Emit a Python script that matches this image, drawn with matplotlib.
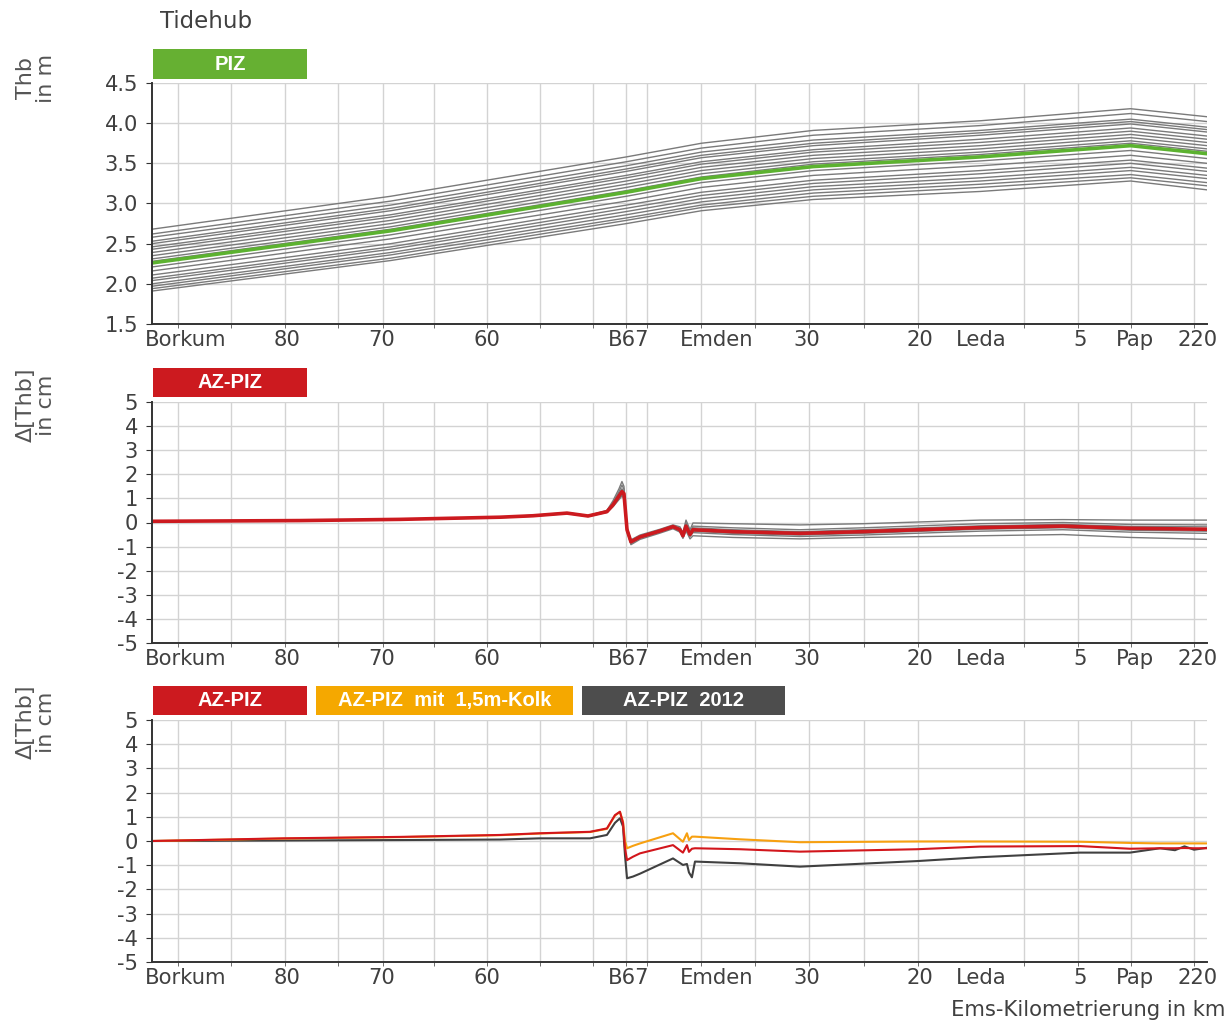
import matplotlib
matplotlib.use("Agg")
import matplotlib.pyplot as plt
from matplotlib.patches import Rectangle
from matplotlib.ticker import FixedLocator, NullFormatter

plt.rcParams['axes.unicode_minus'] = False
plt.rcParams['font.family'] = ['DejaVu Sans']

# x axis: Ems-km positions (axis runs from Borkum to upstream)
x_range = (92.58, -7.23)
grid_km = [90.12, 85.11, 80.0, 74.99, 70.73, 65.90, 60.89, 55.88, 50.86, 47.74,
           45.75, 40.64, 35.53, 30.43, 25.22, 20.11, 14.15, 10.09, 4.98, -0.04, -5.99]
label_km = [89.37, 79.8, 70.9, 60.9, 47.5, 39.2, 30.6, 19.9, 14.15, 4.8, -0.4, -6.3]
label_txt = ["Borkum", "80", "70", "60", "B67", "Emden", "30", "20", "Leda", "5", "Pap", "220"]

# --- panel 1: Tidehub (m) ---
km1 = [92.58, 70.0, 47.7, 40.6, 30.0, 14.2, 0.0, -7.23]
piz = [2.26, 2.66, 3.14, 3.31, 3.46, 3.58, 3.72, 3.62]
runs = [
    [2.68, 3.09, 3.58, 3.75, 3.91, 4.03, 4.18, 4.08],
    [2.62, 3.03, 3.52, 3.69, 3.85, 3.97, 4.12, 4.02],
    [2.58, 2.98, 3.47, 3.64, 3.79, 3.91, 4.05, 3.95],
    [2.53, 2.94, 3.43, 3.60, 3.75, 3.88, 4.02, 3.92],
    [2.50, 2.91, 3.40, 3.57, 3.72, 3.85, 3.99, 3.89],
    [2.46, 2.86, 3.35, 3.52, 3.67, 3.80, 3.94, 3.84],
    [2.43, 2.83, 3.32, 3.49, 3.64, 3.76, 3.90, 3.80],
    [2.39, 2.79, 3.28, 3.45, 3.60, 3.72, 3.86, 3.76],
    [2.35, 2.75, 3.24, 3.41, 3.56, 3.68, 3.82, 3.72],
    [2.31, 2.71, 3.20, 3.37, 3.52, 3.64, 3.78, 3.68],
    [2.28, 2.68, 3.16, 3.33, 3.49, 3.61, 3.75, 3.65],
    [2.21, 2.61, 3.09, 3.26, 3.41, 3.53, 3.66, 3.56],
    [2.16, 2.56, 3.03, 3.20, 3.35, 3.47, 3.60, 3.50],
    [2.11, 2.50, 2.98, 3.14, 3.29, 3.41, 3.54, 3.44],
    [2.07, 2.46, 2.94, 3.10, 3.25, 3.37, 3.50, 3.40],
    [2.04, 2.43, 2.90, 3.06, 3.21, 3.32, 3.45, 3.35],
    [2.00, 2.39, 2.86, 3.02, 3.17, 3.28, 3.41, 3.31],
    [1.97, 2.36, 2.82, 2.98, 3.13, 3.24, 3.36, 3.26],
    [1.94, 2.32, 2.79, 2.95, 3.09, 3.20, 3.32, 3.22],
    [1.91, 2.29, 2.75, 2.91, 3.05, 3.15, 3.28, 3.17],
]

# --- panel 2: AZ-PIZ differences (cm) ---
km2 = [92.58, 78.58, 69.12, 59.66, 56.54, 53.32, 51.33, 49.54, 48.97, 48.40, 48.12,
       47.93, 47.64, 47.27, 46.41, 44.52, 43.29, 42.63, 42.35, 42.06, 41.68, 41.40,
       37.62, 31.28, 25.32, 14.25, 6.40, 0.06, -7.23]
az_mean = [0.05, 0.08, 0.13, 0.22, 0.28, 0.39, 0.27, 0.45, 0.73, 1.10, 1.28, 1.20, -0.30,
           -0.80, -0.60, -0.35, -0.17, -0.30, -0.55, -0.15, -0.50, -0.30, -0.38, -0.45,
           -0.38, -0.21, -0.15, -0.24, -0.28]
az_runs = [
    [0.05, 0.08, 0.14, 0.23, 0.30, 0.41, 0.29, 0.50, 0.90, 1.40, 1.70, 1.50, -0.20, -0.72,
     -0.52, -0.28, -0.10, -0.18, -0.42, 0.10, -0.30, -0.02, -0.05, -0.10, -0.05, 0.10, 0.12, 0.10, 0.10],
    [0.05, 0.08, 0.13, 0.22, 0.29, 0.40, 0.28, 0.48, 0.82, 1.28, 1.55, 1.38, -0.24, -0.76,
     -0.56, -0.32, -0.14, -0.24, -0.48, -0.02, -0.40, -0.15, -0.22, -0.30, -0.22, -0.05, 0.00, -0.08, -0.10],
    [0.04, 0.07, 0.12, 0.21, 0.27, 0.38, 0.26, 0.43, 0.68, 1.00, 1.15, 1.05, -0.35, -0.85,
     -0.65, -0.40, -0.22, -0.35, -0.60, -0.25, -0.58, -0.42, -0.50, -0.58, -0.52, -0.36, -0.30, -0.40, -0.45],
    [0.04, 0.07, 0.12, 0.20, 0.26, 0.37, 0.25, 0.42, 0.65, 0.95, 1.10, 1.00, -0.38, -0.92,
     -0.70, -0.44, -0.26, -0.40, -0.66, -0.35, -0.68, -0.55, -0.62, -0.68, -0.62, -0.55, -0.50, -0.62, -0.70],
    [0.05, 0.08, 0.13, 0.22, 0.29, 0.40, 0.28, 0.46, 0.78, 1.20, 1.40, 1.28, -0.28, -0.82,
     -0.62, -0.36, -0.18, -0.28, -0.52, -0.08, -0.45, -0.22, -0.30, -0.38, -0.30, -0.14, -0.08, -0.16, -0.18],
    [0.05, 0.08, 0.13, 0.21, 0.27, 0.38, 0.27, 0.44, 0.70, 1.05, 1.20, 1.10, -0.33, -0.88,
     -0.63, -0.38, -0.20, -0.32, -0.58, -0.20, -0.55, -0.36, -0.45, -0.52, -0.45, -0.28, -0.22, -0.32, -0.36],
]

# --- panel 3: variants (cm) ---
km3 = [92.58, 80.19, 69.12, 59.66, 55.88, 51.14, 49.54, 48.78, 48.31, 48.02, 47.83, 47.64,
       47.08, 46.41, 43.29, 42.35, 41.97, 41.78, 41.50, 41.21, 36.95, 31.28, 20.21, 14.25,
       4.79, 0.06, -2.78, -4.2, -5.1, -6.0, -7.23]
v_az = [0.0, 0.11, 0.17, 0.25, 0.32, 0.38, 0.52, 1.07, 1.21, 0.74, -0.30, -0.79, -0.65, -0.51,
        -0.17, -0.48, -0.17, -0.45, -0.32, -0.30, -0.34, -0.44, -0.34, -0.23, -0.21, -0.32,
        -0.30, -0.30, -0.29, -0.30, -0.30]
v_kolk = [0.0, 0.10, 0.16, 0.24, 0.31, 0.37, 0.50, 1.05, 1.20, 0.80, 0.00, -0.30, -0.20, -0.10,
          0.32, -0.03, 0.32, 0.04, 0.18, 0.18, 0.07, -0.05, -0.02, -0.02, -0.03, -0.08,
          -0.10, -0.10, -0.10, -0.10, -0.10]
v_2012 = [0.0, 0.02, 0.04, 0.06, 0.11, 0.11, 0.25, 0.75, 0.94, 0.60, -0.60, -1.54, -1.47, -1.35,
          -0.72, -0.99, -0.95, -1.30, -1.50, -0.85, -0.92, -1.06, -0.83, -0.67, -0.48, -0.48,
          -0.30, -0.38, -0.22, -0.36, -0.28]

W, H = 1232, 1023
fig = plt.figure(figsize=(W / 100, H / 100), dpi=100)

TXT = "#404040"
GRID = "#d3d3d3"


def make_axes(top, bottom):
    ax = fig.add_axes([152 / W, 1 - bottom / H, (1207 - 152) / W, (bottom - top) / H])
    ax.set_xlim(*x_range)
    ax.xaxis.set_major_locator(FixedLocator(label_km))
    ax.set_xticklabels(label_txt)
    ax.xaxis.set_minor_locator(FixedLocator(grid_km))
    ax.xaxis.set_minor_formatter(NullFormatter())
    ax.tick_params(axis="x", which="major", length=0, pad=4, labelsize=15.2, labelcolor=TXT)
    ax.tick_params(axis="x", which="minor", length=3, color="#555555")
    ax.tick_params(axis="y", length=4, color="#333333", pad=6, labelsize=15.2, labelcolor=TXT)
    ax.grid(True, which="minor", axis="x", color=GRID, lw=1)
    ax.grid(True, which="major", axis="y", color=GRID, lw=1)
    ax.grid(False, which="major", axis="x")
    for s in ("top", "right"):
        ax.spines[s].set_visible(False)
    for s in ("left", "bottom"):
        ax.spines[s].set_color("#333333")
        ax.spines[s].set_linewidth(1.4)
    ax.set_axisbelow(True)
    return ax


def banner(x0, x1, y0, y1, text, color):
    fig.patches.append(Rectangle((x0 / W, 1 - y1 / H), (x1 - x0) / W, (y1 - y0) / H,
                                 transform=fig.transFigure, facecolor=color, edgecolor="none"))
    fig.text((x0 + x1) / 2 / W, 1 - (y0 + y1) / 2 / H, text, ha="center", va="center",
             color="white", fontweight="bold", fontsize=14.5, family=["Liberation Sans", "DejaVu Sans"])


def ylabel(y, text):
    fig.text(36 / W, 1 - y / H, text, rotation=90, ha="center", va="center",
             multialignment="center", fontsize=16, color="#555555", linespacing=1.0)


# panel 1
ax1 = make_axes(83, 324)
for r in runs:
    ax1.plot(km1, r, color="#7a7a7a", lw=1.0)
ax1.plot(km1, piz, color="#5cb230", lw=2.6)
ax1.set_ylim(1.5, 4.5)
ax1.set_yticks([1.5, 2.0, 2.5, 3.0, 3.5, 4.0, 4.5])
ax1.set_yticklabels(["1.5", "2.0", "2.5", "3.0", "3.5", "4.0", "4.5"])

# panel 2
ax2 = make_axes(402, 643)
for r in az_runs:
    ax2.plot(km2, r, color="#7a7a7a", lw=1.0)
ax2.plot(km2, az_mean, color="#cc1a1f", lw=2.6)
ax2.set_ylim(-5, 5)
ax2.set_yticks(range(-5, 6))

# panel 3
ax3 = make_axes(720, 962)
ax3.plot(km3, v_2012, color="#404040", lw=1.5)
ax3.plot(km3, v_kolk, color="#f7a010", lw=1.5)
ax3.plot(km3, v_az, color="#d2161c", lw=1.5)
ax3.set_ylim(-5, 5)
ax3.set_yticks(range(-5, 6))

fig.text(160 / W, 1 - 22 / H, "Tidehub", ha="left", va="center", fontsize=16.5, color=TXT)
ylabel(78, "Thb\nin m")
ylabel(405, "Δ[Thb]\nin cm")
ylabel(722, "Δ[Thb]\nin cm")
fig.text(1225 / W, 1 - 1010 / H, "Ems-Kilometrierung in km", ha="right", va="center",
         fontsize=15.2, color=TXT)

banner(153, 307, 49, 79, "PIZ", "#66b032")
banner(153, 307, 368, 397, "AZ-PIZ", "#cc1a1f")
banner(153, 307, 686, 715, "AZ-PIZ", "#cc1a1f")
banner(316, 573, 686, 715, "AZ-PIZ  mit  1,5m-Kolk", "#f5a800")
banner(582, 785, 686, 715, "AZ-PIZ  2012", "#4d4d4d")

fig.savefig("out.png", dpi=100)
